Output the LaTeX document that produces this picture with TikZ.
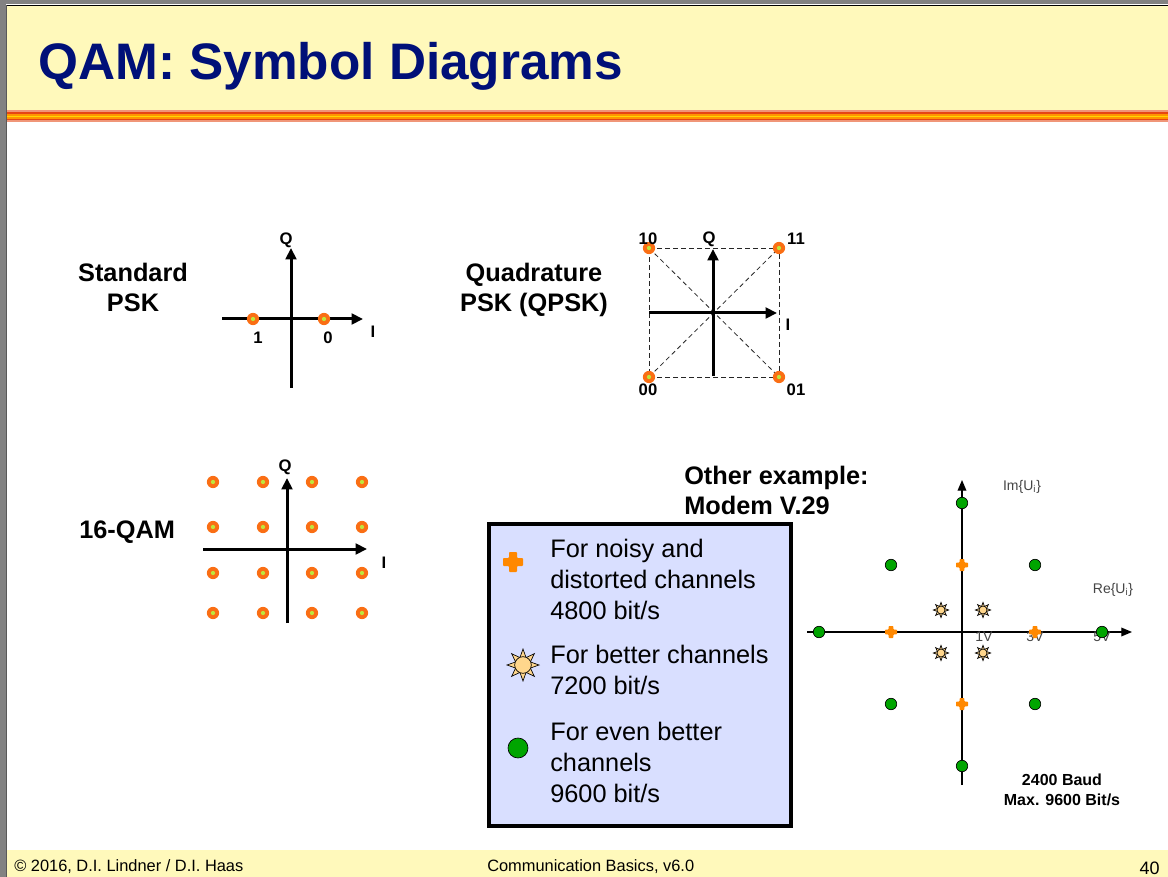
\documentclass[tikz,border=0pt]{standalone}
\usepackage{fontspec}
\setmainfont{Liberation Sans}
\usetikzlibrary{arrows.meta,shapes.geometric}

\definecolor{hdr}{RGB}{255,249,187}
\definecolor{navy}{RGB}{0,16,120}
\definecolor{ptorange}{RGB}{250,110,20}
\definecolor{ptcore}{RGB}{190,230,60}
\definecolor{crossor}{RGB}{255,136,0}
\definecolor{dotgreen}{RGB}{0,165,0}
\definecolor{sunfill}{RGB}{255,214,140}
\definecolor{legfill}{RGB}{217,223,255}
\definecolor{framegray}{RGB}{130,130,130}
\definecolor{stripered}{RGB}{230,70,20}
\definecolor{stripeor}{RGB}{255,150,0}
\definecolor{stripeyel}{RGB}{255,215,0}
\definecolor{stripesal}{RGB}{240,150,120}
\definecolor{axlabel}{RGB}{70,70,70}

\tikzset{
  title/.style={font=\fontsize{38.5pt}{40pt}\selectfont\bfseries, text=navy, inner sep=0},
  heading/.style={font=\fontsize{19pt}{22.5pt}\selectfont\bfseries, inner sep=0},
  lbl/.style={font=\fontsize{12.5pt}{14pt}\selectfont\bfseries, inner sep=0},
  vlbl/.style={font=\fontsize{10.5pt}{12pt}\selectfont, text=axlabel, inner sep=0},
  legtext/.style={font=\fontsize{19pt}{23pt}\selectfont, inner sep=0, align=left},
  foot/.style={font=\fontsize{12.3pt}{14pt}\selectfont, inner sep=0},
  bigax/.style={line width=2.25pt, -{Triangle[length=8.5pt,width=8pt]}},
  thinax/.style={line width=0.95pt, -{Triangle[length=8pt,width=6.5pt]}},
  gridline/.style={line width=0.6pt, dash pattern=on 3.5pt off 2.5pt, black!85},
  pt/.style={circle, fill=ptorange, inner sep=0, minimum size=9.2pt,
    path picture={\fill[ptcore] (path picture bounding box.center) circle (1.6pt);}},
  gdot/.style={circle, fill=dotgreen, draw=black, line width=0.5pt, inner sep=0, minimum size=#1},
  gdot/.default=8.6pt,
  legendbox/.style={draw=black, line width=3pt, fill=legfill, inner sep=0},
  crossmark/.pic={
    \fill[crossor, rounded corners=0.6pt]
      (-#1,-0.4*#1) -- (-0.4*#1,-0.4*#1) -- (-0.4*#1,-#1) -- (0.4*#1,-#1)
      -- (0.4*#1,-0.4*#1) -- (#1,-0.4*#1) -- (#1,0.4*#1) -- (0.4*#1,0.4*#1)
      -- (0.4*#1,#1) -- (-0.4*#1,#1) -- (-0.4*#1,0.4*#1) -- (-#1,0.4*#1) -- cycle;
  },
  sunmark/.pic={
    \node[star, star points=8, star point ratio=2.0, fill=sunfill, draw=black,
      line width=0.5pt, inner sep=0, minimum size=#1] (-ray) {};
    \node[circle, fill=sunfill, draw=black, line width=0.5pt, inner sep=0,
      minimum size=0.52*#1] (-core) {};
  }
}

\begin{document}
\begin{tikzpicture}[x=0.75pt,y=-0.75pt]
\useasboundingbox (0,0) rectangle (1168,877);

% page frame, header band and footer band
\fill[white] (0,0) rectangle (1168,877);
\fill[hdr] (7,5) rectangle (1168,111);
\fill[hdr] (7,850) rectangle (1168,877);
\fill[framegray] (0,0) rectangle (1168,4.5);
\fill[framegray] (0,0) rectangle (6,877);
\draw[black, line width=1pt] (6,5.2) -- (1168,5.2);
\draw[black!65, line width=1pt] (6.2,5) -- (6.2,877);

% coloured rule under the title
\fill[stripesal] (7,110.5) rectangle (1168,112.5);
\fill[stripered] (7,112.5) rectangle (1168,114.5);
\fill[stripeor]  (7,114.5) rectangle (1168,116);
\fill[stripeyel] (7,116)   rectangle (1168,117.5);
\fill[stripeor]  (7,117.5) rectangle (1168,119);
\fill[stripered] (7,119)   rectangle (1168,120.5);
\fill[stripesal] (7,120.5) rectangle (1168,122);

\node[title, anchor=base west] (title) at (38,80) {QAM: Symbol Diagrams};

% ---------- Standard PSK ----------
\node[heading, align=center, anchor=base] (pskhead) at (133,312) {Standard\\PSK};
\coordinate (psk-l) at (222,319);
\coordinate (psk-r) at (363,319);
\coordinate (psk-b) at (291,388);
\coordinate (psk-t) at (291,248);
\draw[bigax] (psk-l) -- (psk-r);
\draw[bigax] (psk-b) -- (psk-t);
\node[pt] (psk1) at (253,319) {};
\node[pt] (psk0) at (324,319) {};
\node[lbl] (psk-q) at (286,240) {Q};
\node[lbl] (psk-i) at (373,332) {I};
\node[lbl] (psk-1) at (258,338) {1};
\node[lbl] (psk-0) at (328,338) {0};

% ---------- QPSK ----------
\node[heading, align=center, anchor=base] (qpskhead) at (534,312) {Quadrature\\PSK (QPSK)};
\coordinate (c10) at (649,248);
\coordinate (c11) at (779,248);
\coordinate (c00) at (649,377);
\coordinate (c01) at (779,377);
\draw[gridline] (c10) -- (c11) -- (c01) -- (c00) -- cycle;
\draw[gridline] (c10) -- (c01);
\draw[gridline] (c00) -- (c11);
\coordinate (qpsk-l) at (649,313);
\coordinate (qpsk-r) at (777,313);
\coordinate (qpsk-b) at (713,376);
\coordinate (qpsk-t) at (713,249);
\draw[bigax] (qpsk-l) -- (qpsk-r);
\draw[bigax] (qpsk-b) -- (qpsk-t);
\node[pt] (q10) at (c10) {};
\node[pt] (q11) at (c11) {};
\node[pt] (q00) at (c00) {};
\node[pt] (q01) at (c01) {};
\node[lbl] (lab10) at (648,239) {10};
\node[lbl] (qpsk-q) at (709,239) {Q};
\node[lbl] (lab11) at (796,239) {11};
\node[lbl] (qpsk-i) at (788,325) {I};
\node[lbl] (lab00) at (648,390) {00};
\node[lbl] (lab01) at (796,390) {01};

% ---------- 16-QAM ----------
\node[heading, anchor=base west] (qamhead) at (79,538) {16-QAM};
\coordinate (qam-l) at (203,549);
\coordinate (qam-r) at (367,549);
\coordinate (qam-b) at (287,623);
\coordinate (qam-t) at (287,478);
\draw[bigax] (qam-l) -- (qam-r);
\draw[bigax] (qam-b) -- (qam-t);
\foreach \x [count=\i] in {213,263,312,362}
  \foreach \y [count=\j] in {482,527,573,613}
    \node[pt] (qam-\i-\j) at (\x,\y) {};
\node[lbl] (qam-q) at (285,467) {Q};
\node[lbl] (qam-i) at (384,563) {I};

% ---------- Modem V.29 ----------
\node[heading, align=left, anchor=base west] (v29head) at (684,514) {Other example:\\Modem V.29};

\node[legendbox, minimum width=226.5pt, minimum height=226.5pt] (legend) at (640,675) {};
\pic (legcross) at (513,562) {crossmark=10};
\pic (legsun) at (523,665) {sunmark=24pt};
\node[gdot=15pt] (legdot) at (518,748) {};
\node[legtext, anchor=base west] (leg1) at (550,619) {For noisy and\\distorted channels\\4800 bit/s};
\node[legtext, anchor=base west] (leg2) at (550,694) {For better channels\\7200 bit/s};
\node[legtext, anchor=base west] (leg3) at (550,802) {For even better\\channels\\9600 bit/s};

\coordinate (v-l) at (807,632);
\coordinate (v-r) at (1132,632);
\coordinate (v-b) at (962,785);
\coordinate (v-t) at (962,480);
\draw[thinax] (v-l) -- (v-r);
\draw[thinax] (v-b) -- (v-t);
\node[vlbl] (im) at (1022,487) {Im\{U\textsubscript{i}\}};
\node[vlbl] (re) at (1113,590) {Re\{U\textsubscript{i}\}};
\node[vlbl] (v1) at (984,637) {1V};
\node[vlbl] (v3) at (1035,637) {3V};
\node[vlbl] (v5) at (1102,637) {5V};

% 9600 bit/s points
\node[gdot] (g1) at (962,503) {};
\node[gdot] (g2) at (891,565) {};
\node[gdot] (g3) at (1035,565) {};
\node[gdot] (g4) at (819,632) {};
\node[gdot] (g5) at (1102,632) {};
\node[gdot] (g6) at (891,704) {};
\node[gdot] (g7) at (1035,704) {};
\node[gdot] (g8) at (962,766) {};
% 4800 bit/s points
\pic (o1) at (962,565) {crossmark=6};
\pic (o2) at (891,632) {crossmark=6};
\pic (o3) at (1035,632) {crossmark=6};
\pic (o4) at (962,704) {crossmark=6};
% 7200 bit/s points
\pic (s1) at (941,610) {sunmark=11.5pt};
\pic (s2) at (983,610) {sunmark=11.5pt};
\pic (s3) at (941,653) {sunmark=11.5pt};
\pic (s4) at (983,653) {sunmark=11.5pt};

\node[font=\fontsize{12pt}{14.3pt}\selectfont\bfseries, align=center, anchor=base, inner sep=0]
  (baud) at (1062,805) {2400 Baud\\Max. 9600 Bit/s};

% ---------- footer ----------
\node[foot, anchor=base west] (copy) at (14,871) {© 2016, D.I. Lindner / D.I. Haas};
\node[foot, anchor=base west] (course) at (487,871) {Communication Basics, v6.0};
\node[font=\fontsize{13.5pt}{15pt}\selectfont, inner sep=0, anchor=base east] (page) at (1160,874) {40};
\end{tikzpicture}
\end{document}
